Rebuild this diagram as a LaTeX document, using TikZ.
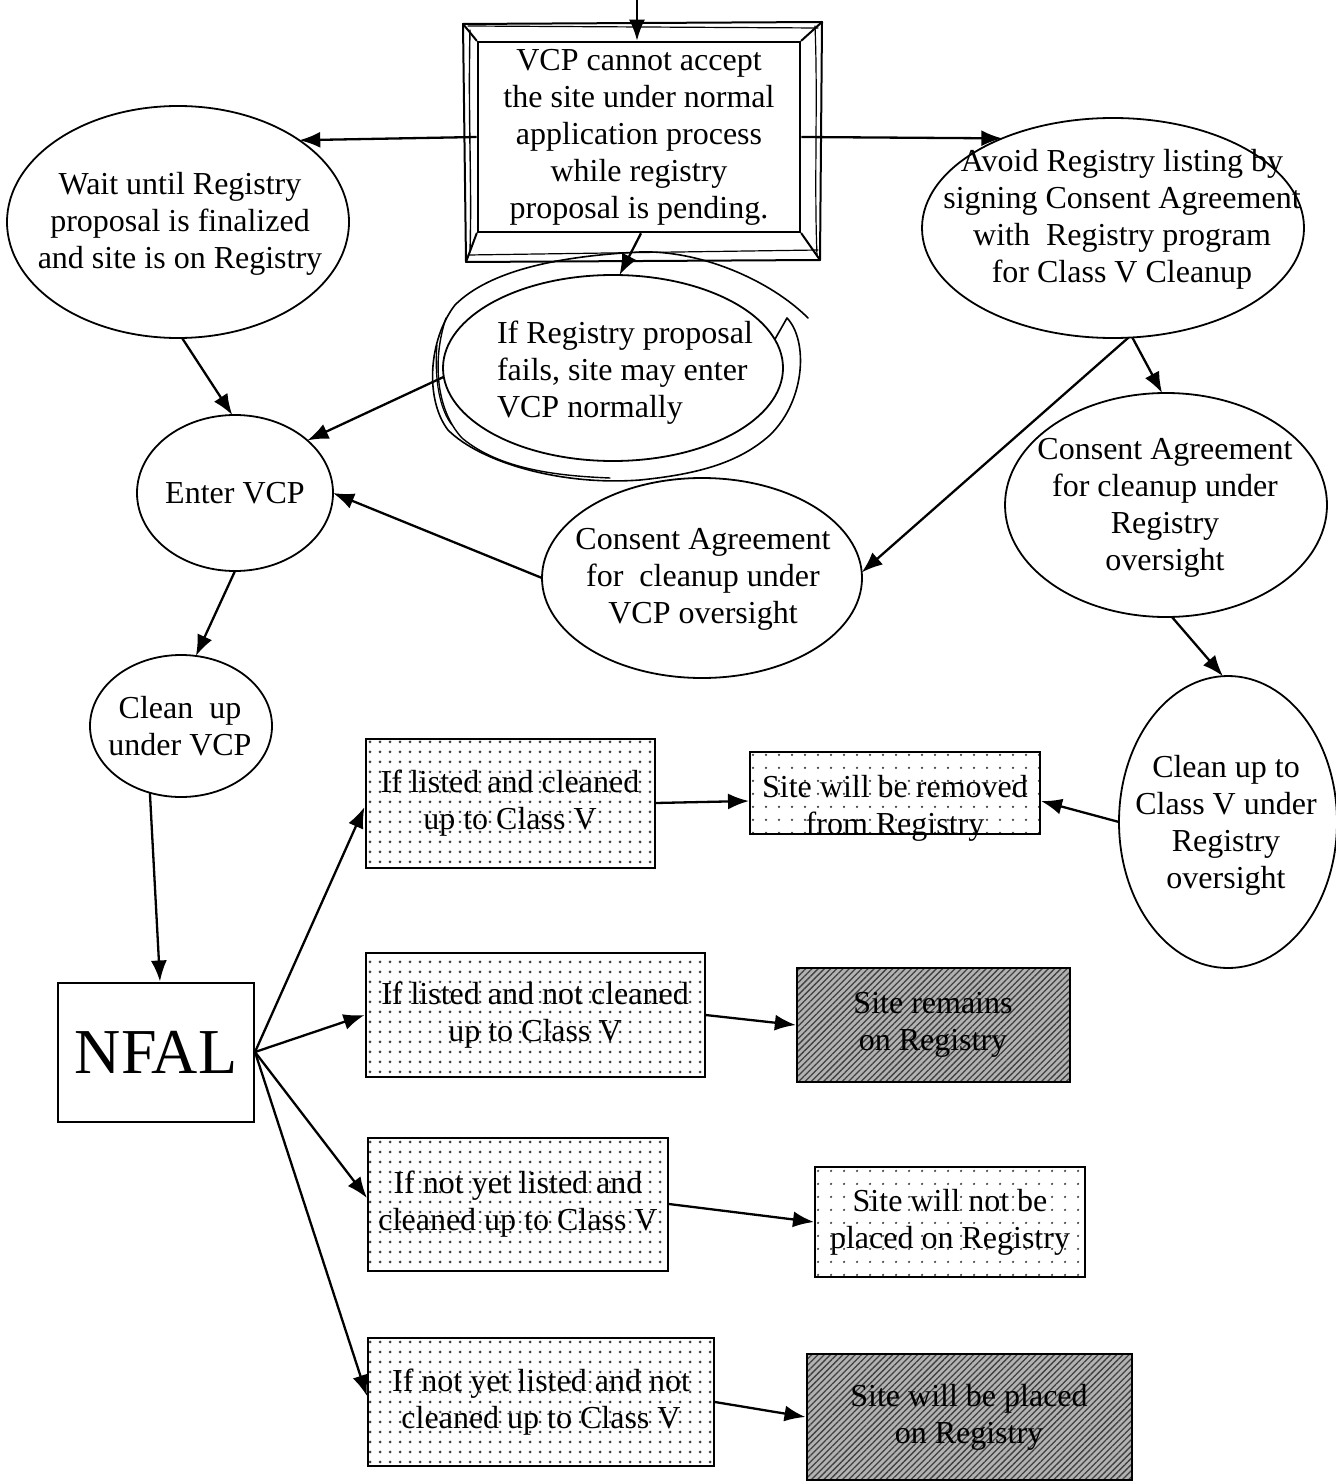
\documentclass[tikz,border=0pt]{standalone}
\usepackage{fontspec}
\setmainfont{Liberation Serif}
\usetikzlibrary{shapes.geometric,arrows.meta,patterns.meta}
\begin{document}
\begin{tikzpicture}[x=0.5pt,y=-0.5pt,
  ell/.style={draw, ellipse, line width=0.9pt, inner sep=0pt, outer sep=0pt},
  txt/.style={align=center, font=\fontsize{16pt}{18.5pt}\selectfont, inner sep=0pt},
  arr/.style={-{Latex[length=10.5pt,width=8pt]}, line width=1.15pt},
  plainbox/.style={draw, line width=1pt, inner sep=0pt, align=center, font=\fontsize{16pt}{18.5pt}\selectfont},
  dotbox/.style={plainbox, pattern={Dots[distance=5pt,radius=0.75pt]}, pattern color=black!75},
  sparsebox/.style={plainbox, pattern={Dots[distance=6.5pt,radius=0.65pt]}, pattern color=black!75},
  hatchbox/.style={plainbox, preaction={fill=black!30}, pattern={Lines[angle=45,distance=2.2pt,line width=0.65pt]}, pattern color=black!75},
  sk/.style={line width=1pt, line join=round, line cap=round}
]
\useasboundingbox (0,0) rectangle (1336,1482);

% ---------- top box ----------
\node[plainbox, line width=1.3pt, minimum width=161pt, minimum height=95pt] (top) at (639,137) {};
\node[txt] (topT) at (639,137) {VCP cannot accept\\the site under normal\\application process\\while registry\\proposal is pending.};
% sketchy 3D frame
\draw[sk] (463,24) -- (822,22) -- (820,260) -- (466,262) -- cycle;
\draw[sk, line width=0.7pt] (470,30) .. controls (468,120) and (472,180) .. (470,252);
\draw[sk, line width=0.6pt] (468,26) -- (818,28);
\draw[sk, line width=0.6pt] (815,26) .. controls (818,100) and (814,180) .. (817,256);
\draw[sk, line width=0.6pt] (468,255) -- (818,250);
\draw[sk] (top.north west) -- (463,24);
\draw[sk] (top.north east) -- (822,22);
\draw[sk] (top.south west) -- (466,262);
\draw[sk] (top.south east) -- (820,260);

\coordinate (in) at (637,0);
\draw[arr] (in) -- (in |- top.north);

% ---------- ellipses ----------
\node[ell, minimum width=171pt, minimum height=116pt] (wait) at (178,222) {};
\node[txt] (waitT) at (180,224) {Wait until Registry\\proposal is finalized\\and site is on Registry};

\node[ell, minimum width=191pt, minimum height=110pt] (avoid) at (1113,228) {};
\node[txt] (avoidT) at (1122,219) {Avoid Registry listing by\\signing Consent Agreement\\with~~Registry program\\for Class V Cleanup};

\node[ell, minimum width=170pt, minimum height=93pt] (mid) at (613,368) {};
\node[txt, align=left] (midT) at (625,373) {If Registry proposal\\fails, site may enter\\VCP normally};

\node[ell, minimum width=98pt, minimum height=78pt] (enter) at (235,493) {};
\node[txt] (enterT) at (235,493) {Enter VCP};

\node[ell, minimum width=160pt, minimum height=100pt] (vcpc) at (702,578) {};
\node[txt] (vcpcT) at (703,579) {Consent Agreement\\for~~cleanup under\\VCP oversight};

\node[ell, minimum width=161pt, minimum height=112pt] (regc) at (1166,505) {};
\node[txt] (regcT) at (1165,508) {Consent Agreement\\for cleanup under\\Registry\\oversight};

\node[ell, minimum width=109pt, minimum height=146pt] (clean5) at (1228,822) {};
\node[txt] (clean5T) at (1226,825) {Clean up to\\Class V under\\Registry\\oversight};

\node[ell, minimum width=91pt, minimum height=71pt] (cvcp) at (181,726) {};
\node[txt] (cvcpT) at (180,726) {Clean~~up\\under VCP};

% hand-drawn loop around the middle ellipse
\draw[sk, line width=0.8pt] (mid.10) -- (787,318)
  .. controls (808,340) and (806,400) .. (770,435)
  .. controls (740,462) and (700,474) .. (640,480)
  .. controls (560,486) and (480,462) .. (448,430)
  .. controls (425,400) and (428,340) .. (455,305)
  .. controls (490,270) and (560,256) .. (640,252)
  .. controls (700,250) and (770,280) .. (808,318);
\draw[sk, line width=0.7pt] (446,318) .. controls (432,360) and (436,410) .. (462,438)
  .. controls (500,470) and (560,476) .. (610,478);
\draw[sk, line width=0.6pt] (437,345) .. controls (434,380) and (440,410) .. (452,425);

% ---------- boxes ----------
\node[plainbox, minimum width=98pt, minimum height=69.5pt, font=\fontsize{32pt}{36pt}\selectfont] (nfal) at (156,1052) {NFAL};

\node[dotbox, minimum width=144.5pt, minimum height=64.5pt] (b1) at (510,803) {If listed and cleaned\\up to Class V};
\node[dotbox, minimum width=169.5pt, minimum height=62pt] (b2) at (535,1015) {If listed and not cleaned\\up to Class V};
\node[dotbox, minimum width=150pt, minimum height=66.5pt] (b3) at (518,1204) {If not yet listed and\\cleaned up to Class V};
\node[dotbox, minimum width=173pt, minimum height=64pt] (b4) at (541,1402) {If not yet listed and not\\cleaned up to Class V};

\node[sparsebox, minimum width=145pt, minimum height=41pt] (r1) at (895,793) {};
\node[txt] (r1T) at (895,808) {Site will be removed\\from Registry};
\node[hatchbox, minimum width=136.5pt, minimum height=57pt] (r2) at (933,1025) {Site remains\\on Registry};
\node[sparsebox, minimum width=135pt, minimum height=55pt] (r3) at (950,1222) {Site will not be\\placed on Registry};
\node[hatchbox, minimum width=162.5pt, minimum height=63pt] (r4) at (969,1417) {Site will be placed\\on Registry};

% ---------- connectors ----------
\draw[arr] (top.west) -- (wait.34);
\draw[arr] (top.east) -- (avoid.141);
\draw[arr] ([xshift=1pt]top.south) -- (mid.86);
\draw[arr] (wait.-88) -- (enter.92);
\draw[arr] (mid.183) -- (enter.36);
\draw[arr] (vcpc.west) -- (enter.east);
\draw[arr] (avoid.-82) -- (vcpc.2);
\draw[arr] (avoid.-80) -- (regc.92);
\draw[arr] (regc.-87) -- (clean5.92);
\draw[arr] (clean5.west) -- ([yshift=-4pt]r1.east);
\draw[arr] (enter.south) -- (cvcp.78);
\draw[arr] (cvcp.-115) -- ([xshift=2pt]nfal.north);
\draw[arr] (nfal.east) -- ([yshift=-2pt]b1.west);
\draw[arr] (nfal.east) -- (b2.west);
\draw[arr] (nfal.east) -- ([yshift=3pt]b3.west);
\draw[arr] (nfal.east) -- ([yshift=3pt]b4.west);
\draw[arr] (b1.east) -- ([yshift=-4pt]r1.west);
\draw[arr] (b2.east) -- (r2.west);
\draw[arr] (b3.east) -- (r3.west);
\draw[arr] (b4.east) -- (r4.west);
\end{tikzpicture}
\end{document}
